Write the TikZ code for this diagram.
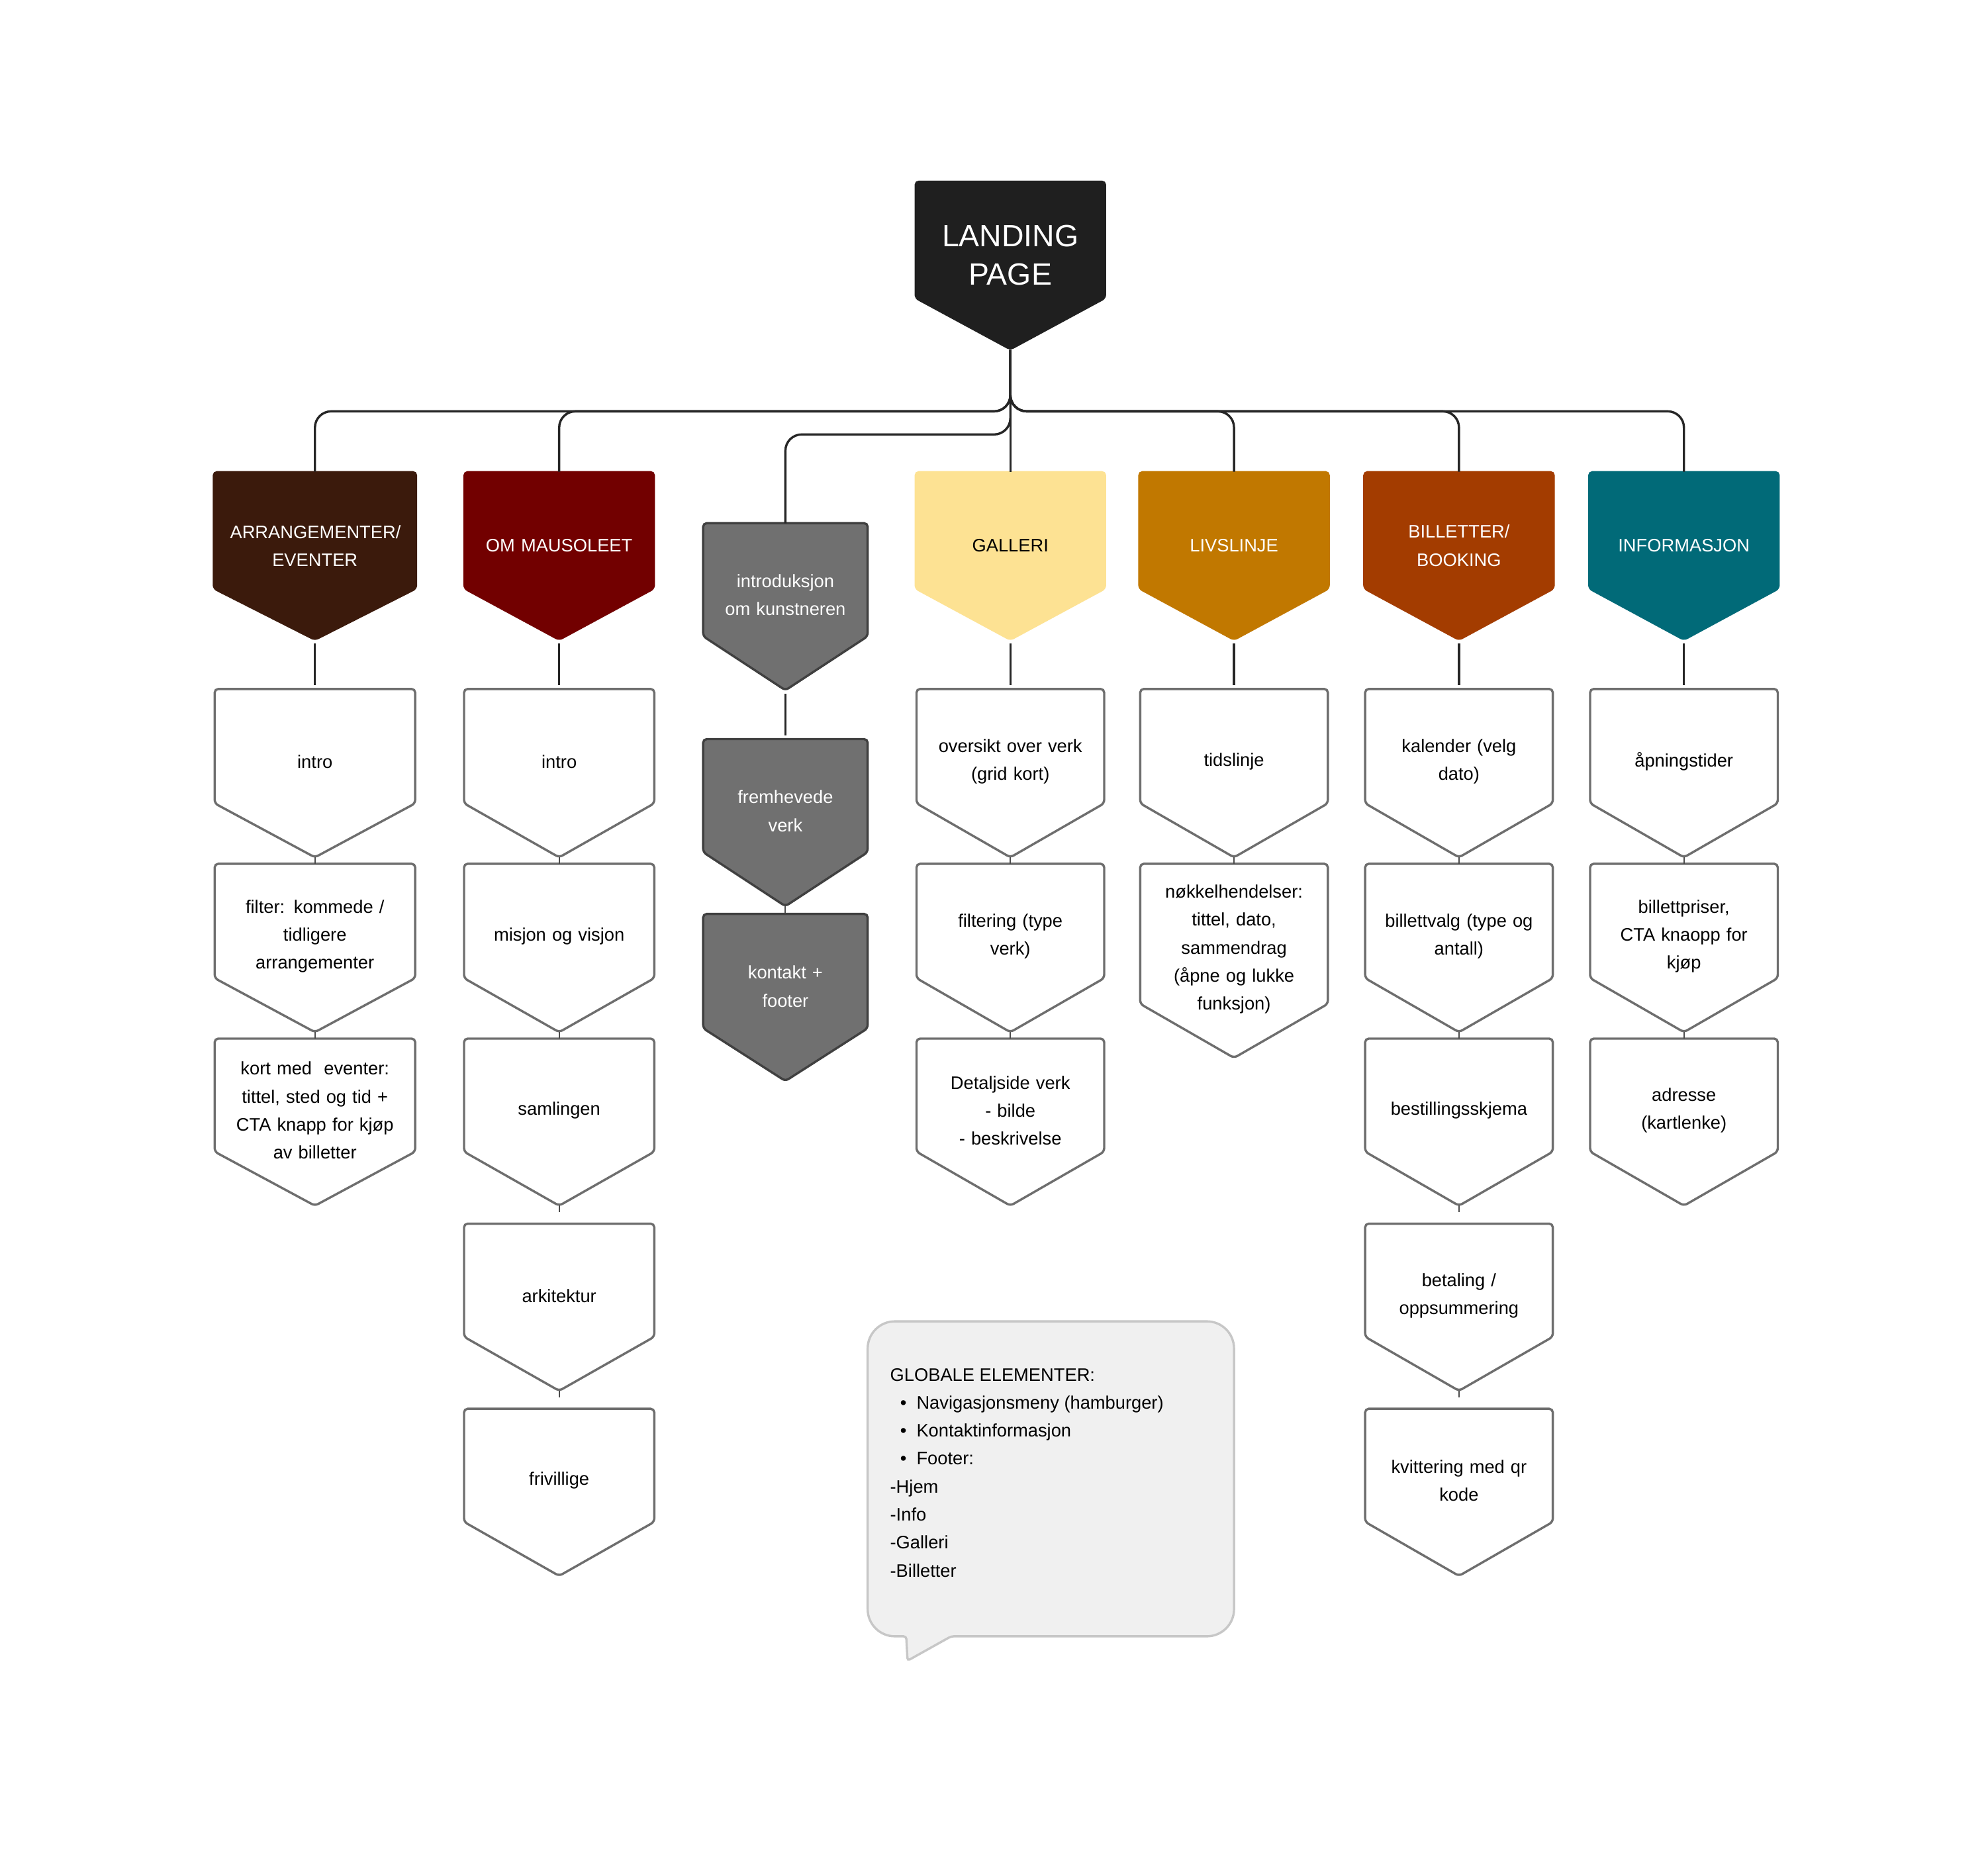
\documentclass[tikz,border=0pt]{standalone}
\usepackage{fontspec}
\setmainfont{Liberation Sans}
\usetikzlibrary{calc}
\definecolor{cArr}{HTML}{3B1A0C}
\definecolor{cOm}{HTML}{720000}
\definecolor{cGray}{HTML}{707070}
\definecolor{cGal}{HTML}{FDE293}
\definecolor{cLiv}{HTML}{C17800}
\definecolor{cBil}{HTML}{A33C00}
\definecolor{cInf}{HTML}{016A78}
\definecolor{cEdge}{HTML}{6E6E6E}
\tikzset{
  hdr/.style={fill=#1,draw=#1,line width=1.5pt,rounded corners=4pt},
  gry/.style={fill=cGray,draw=black!75,line width=2.5pt,rounded corners=4pt},
  kid/.style={fill=white,draw=cEdge,line width=2.5pt,rounded corners=4pt},
  txt/.style={align=center,text width=6.6cm,font=\fontsize{20}{31}\selectfont},
  conn/.style={draw=black!85,line width=2.5pt,rounded corners=18pt},
  tick/.style={draw=black!85,line width=2.5pt,shorten >=4pt,shorten <=4pt}
}
% name, cx, top, halfw, sidey, bottom, style, text
\newcommand\pent[8]{%
  \draw[#7] (#2-#4,#3) -- (#2+#4,#3) -- (#2+#4,#5) -- (#2,#6) -- (#2-#4,#5) -- cycle;
  \node[txt] (#1) at (#2,{(#3+#5)/2+12}) {#8};
  \coordinate (#1t) at (#2,#3);
  \coordinate (#1b) at (#2,#6);}
\begin{document}
\begin{tikzpicture}[x=0.05cm,y=-0.05cm]
\useasboundingbox[fill=white] (0,0) rectangle (1545,1459);
% landing
\pent{land}{786}{141}{74}{232}{272}{hdr=black!88}{\color{white}\fontsize{34}{40}\selectfont LANDING\\[12pt]PAGE}
% headers
\pent{h1}{245}{367}{79}{458}{498}{hdr=cArr}{\color{white}ARRANGEMENTER/\\EVENTER}
\pent{h2}{435}{367}{74}{458}{498}{hdr=cOm}{\color{white}OM MAUSOLEET}
\pent{h3}{611}{407}{64}{495}{537}{gry}{\color{white}introduksjon\\om kunstneren}
\pent{h4}{786}{367}{74}{458}{498}{hdr=cGal}{GALLERI}
\pent{h5}{960}{367}{74}{458}{498}{hdr=cLiv}{\color{white}LIVSLINJE}
\pent{h6}{1135}{367}{74}{458}{498}{hdr=cBil}{\color{white}BILLETTER/\\BOOKING}
\pent{h7}{1310}{367}{74}{458}{498}{hdr=cInf}{\color{white}INFORMASJON}
% connectors from landing
\draw[conn] (landb) -- (786,320) -| (h1t);
\draw[conn] (landb) -- (786,320) -| (h2t);
\draw[conn] (landb) -- (786,338) -| (h3t);
\draw[conn] (landb) -- (h4t);
\draw[conn] (landb) -- (786,320) -| (h5t);
\draw[conn] (landb) -- (786,320) -| (h6t);
\draw[conn] (landb) -- (786,320) -| (h7t);
% column 1
\pent{a1}{245}{536}{78}{625}{667}{kid}{intro}
\pent{a2}{245}{672}{78}{761}{803}{kid}{filter: kommede /\\tidligere\\arrangementer}
\pent{a3}{245}{808}{78}{896}{938}{kid}{kort med\ \ eventer:\\tittel, sted og tid +\\CTA knapp for kjøp\\av billetter}
% column 2
\pent{b1}{435}{536}{74}{625}{667}{kid}{intro}
\pent{b2}{435}{672}{74}{761}{803}{kid}{misjon og visjon}
\pent{b3}{435}{808}{74}{896}{938}{kid}{samlingen}
\pent{b4}{435}{952}{74}{1040}{1082}{kid}{arkitektur}
\pent{b5}{435}{1096}{74}{1184}{1226}{kid}{frivillige}
% column 3
\pent{c2}{611}{575}{64}{663}{705}{gry}{\color{white}fremhevede\\verk}
\pent{c3}{611}{711}{64}{800}{841}{gry}{\color{white}kontakt +\\footer}
% column 4
\pent{d1}{786}{536}{73}{625}{667}{kid}{oversikt over verk\\(grid kort)}
\pent{d2}{786}{672}{73}{761}{803}{kid}{filtering (type\\verk)}
\pent{d3}{786}{808}{73}{896}{938}{kid}{Detaljside verk\\- bilde\\- beskrivelse}
% column 5
\pent{e1}{960}{536}{73}{625}{667}{kid}{tidslinje}
\pent{e2}{960}{672}{73}{781}{823}{kid}{nøkkelhendelser:\\tittel, dato,\\sammendrag\\(åpne og lukke\\funksjon)}
% column 6
\pent{f1}{1135}{536}{73}{625}{667}{kid}{kalender (velg\\dato)}
\pent{f2}{1135}{672}{73}{761}{803}{kid}{billettvalg (type og\\antall)}
\pent{f3}{1135}{808}{73}{896}{938}{kid}{bestillingsskjema}
\pent{f4}{1135}{952}{73}{1040}{1082}{kid}{betaling /\\oppsummering}
\pent{f5}{1135}{1096}{73}{1184}{1226}{kid}{kvittering med qr\\kode}
% column 7
\pent{g1}{1310}{536}{73}{625}{667}{kid}{åpningstider}
\pent{g2}{1310}{672}{73}{761}{803}{kid}{billettpriser,\\CTA knaopp for\\kjøp}
\pent{g3}{1310}{808}{73}{896}{938}{kid}{adresse\\(kartlenke)}
% ticks
\foreach \p/\q in {h1b/a1t,h2b/b1t,h3b/c2t,h4b/d1t,h5b/e1t,h6b/f1t,h7b/g1t}
  \draw[tick] (\p) -- (\q);
\foreach \p/\q in {a1b/a2t,a2b/a3t,b1b/b2t,b2b/b3t,b3b/b4t,b4b/b5t,c2b/c3t,d1b/d2t,d2b/d3t,e1b/e2t,f1b/f2t,f2b/f3t,f3b/f4t,f4b/f5t,g1b/g2t,g2b/g3t}
  \draw[draw=black!70,line width=1.5pt] (\p) -- ++(0,5);
% bubble
\draw[fill=black!6,draw=black!22,line width=2.5pt,rounded corners=30pt]
  (820,1028) -- (675,1028) -- (675,1273) [rounded corners=3pt] -- (705,1273) -- (706,1292) -- (740,1273) [rounded corners=30pt] -- (960,1273) -- (960,1028) -- cycle;
\node[anchor=north west,align=left,font=\fontsize{20}{31}\selectfont] (glob) at (690,1062) {%
GLOBALE ELEMENTER:\\
\ \ \textbullet\ \ Navigasjonsmeny (hamburger)\\
\ \ \textbullet\ \ Kontaktinformasjon\\
\ \ \textbullet\ \ Footer:\\
-Hjem\\-Info\\-Galleri\\-Billetter};
\end{tikzpicture}
\end{document}
